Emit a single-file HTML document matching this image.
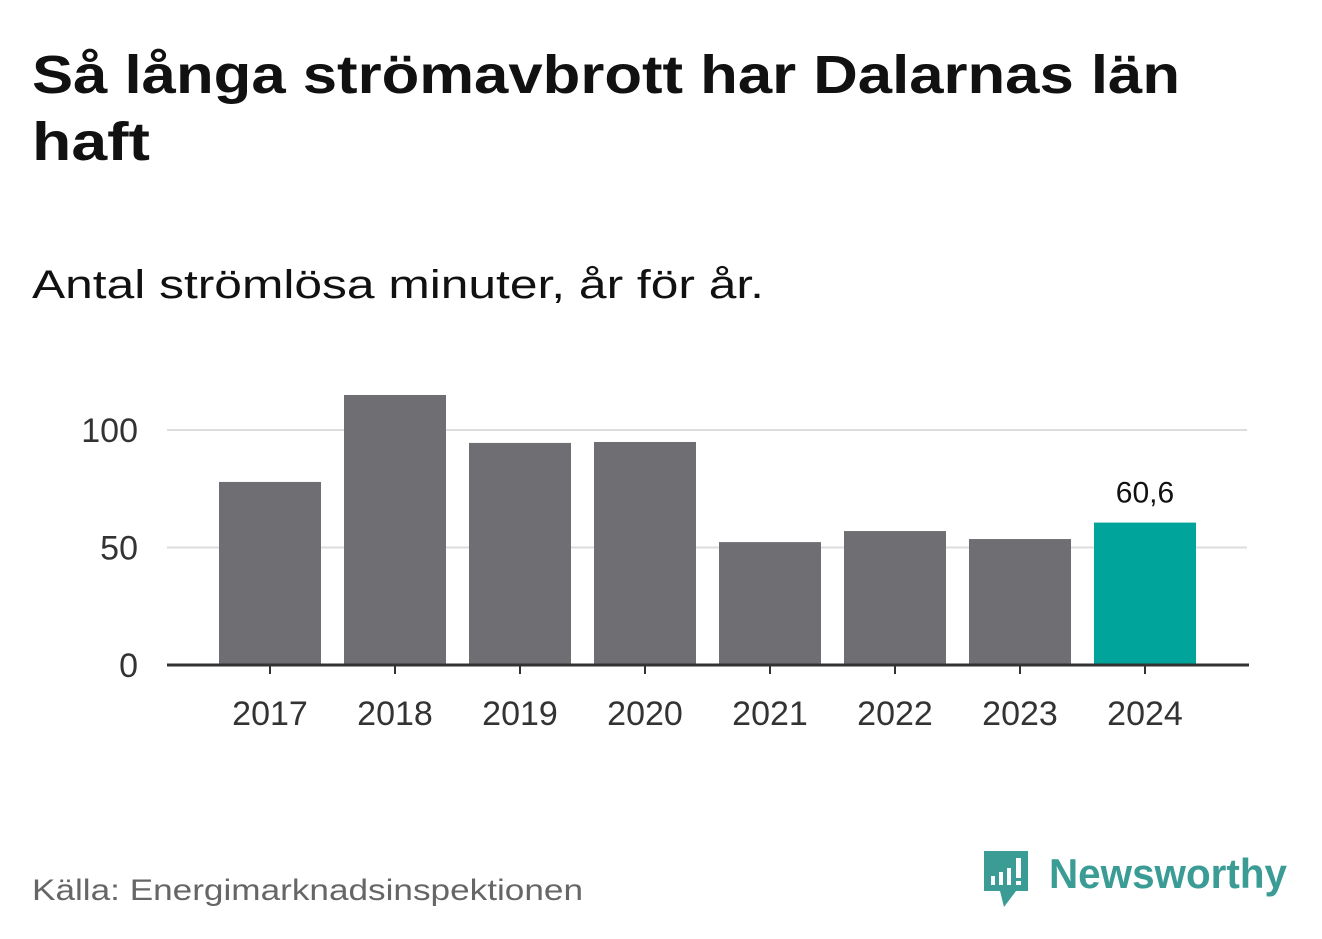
<!DOCTYPE html>
<html><head><meta charset="utf-8"><style>
html,body{margin:0;padding:0;background:#fff;}
svg{display:block;font-family:"Liberation Sans","DejaVu Sans",sans-serif;}
</style></head><body>
<svg id="chart" width="1322" height="939" viewBox="0 0 1322 939">
<text x="32" y="93" font-size="54" font-weight="bold" fill="#111" textLength="1148" lengthAdjust="spacingAndGlyphs">Så långa strömavbrott har Dalarnas län</text>
<text x="32" y="160" font-size="54" font-weight="bold" fill="#111" textLength="118" lengthAdjust="spacingAndGlyphs">haft</text>
<text x="32" y="298" font-size="40" fill="#111" textLength="732" lengthAdjust="spacingAndGlyphs">Antal strömlösa minuter, år för år.</text>
<g id="grid"></g><g id="bars"></g><g id="axis"></g>
<text x="32" y="900" font-size="30" fill="#666" textLength="551" lengthAdjust="spacingAndGlyphs">Källa: Energimarknadsinspektionen</text>
<g>
<path d="M984 851 h44 v40 h-12 l-12 16 l-4 -16 h-16 z" fill="#3a9c94"/>
<rect x="991" y="876" width="4" height="9" fill="#fff"/><rect x="999" y="872" width="4" height="13" fill="#fff"/><rect x="1007" y="868" width="4" height="17" fill="#fff"/><rect x="1016" y="858" width="5" height="20" fill="#fff"/><rect x="1016" y="881" width="5" height="4" fill="#fff"/>
<text x="1049" y="888" font-size="42" font-weight="bold" fill="#3a9c94" textLength="238" lengthAdjust="spacingAndGlyphs">Newsworthy</text>
</g>
</svg>
<script>
const categories=["2017","2018","2019","2020","2021","2022","2023","2024"];
const values=[77.9,114.9,94.5,94.9,52.3,57.0,53.6,60.6];
const yTicks=[0,50,100];
const highlightLabel="60,6";
const NS="http://www.w3.org/2000/svg";
const y0=665, pxPerUnit=2.35, x0=270, step=125, bw=102;
const y=v=>y0-v*pxPerUnit;
const x=i=>x0+i*step;
function mk(tag,attrs,parent,text){const e=document.createElementNS(NS,tag);for(const k in attrs)e.setAttribute(k,attrs[k]);if(text!=null)e.textContent=text;document.getElementById(parent).appendChild(e);return e;}
yTicks.forEach(t=>{
 if(t>0){const g=mk('line',{x1:167,x2:1247,y1:y(t),y2:y(t),stroke:'#ddd','stroke-width':2},'grid');
 
 }
 const l=mk('text',{x:138,y:y(t)+12,'font-size':34,fill:'#333','text-anchor':'end'},'axis',String(t));
 
 
});
values.forEach((v,i)=>{
 const last=i===values.length-1;
 const r=mk('rect',{x:x(i)-bw/2,y:y(v),width:bw,height:y0-y(v),fill:last?'#00a49a':'#6f6e73'},'bars');
 
 
 const tk=mk('line',{x1:x(i),x2:x(i),y1:y0,y2:y0+9,stroke:'#333','stroke-width':2},'axis');
 
 
 const lb=mk('text',{x:x(i),y:725,'font-size':34,fill:'#333','text-anchor':'middle'},'axis',categories[i]);
 
 
 if(last){const vl=mk('text',{x:x(i),y:y(v)-20,'font-size':30,fill:'#111','text-anchor':'middle'},'bars',highlightLabel);
 
 }
});
const ax=mk('line',{x1:167,x2:1249,y1:y0,y2:y0,stroke:'#333','stroke-width':3},'axis');


</script>
</body></html>
